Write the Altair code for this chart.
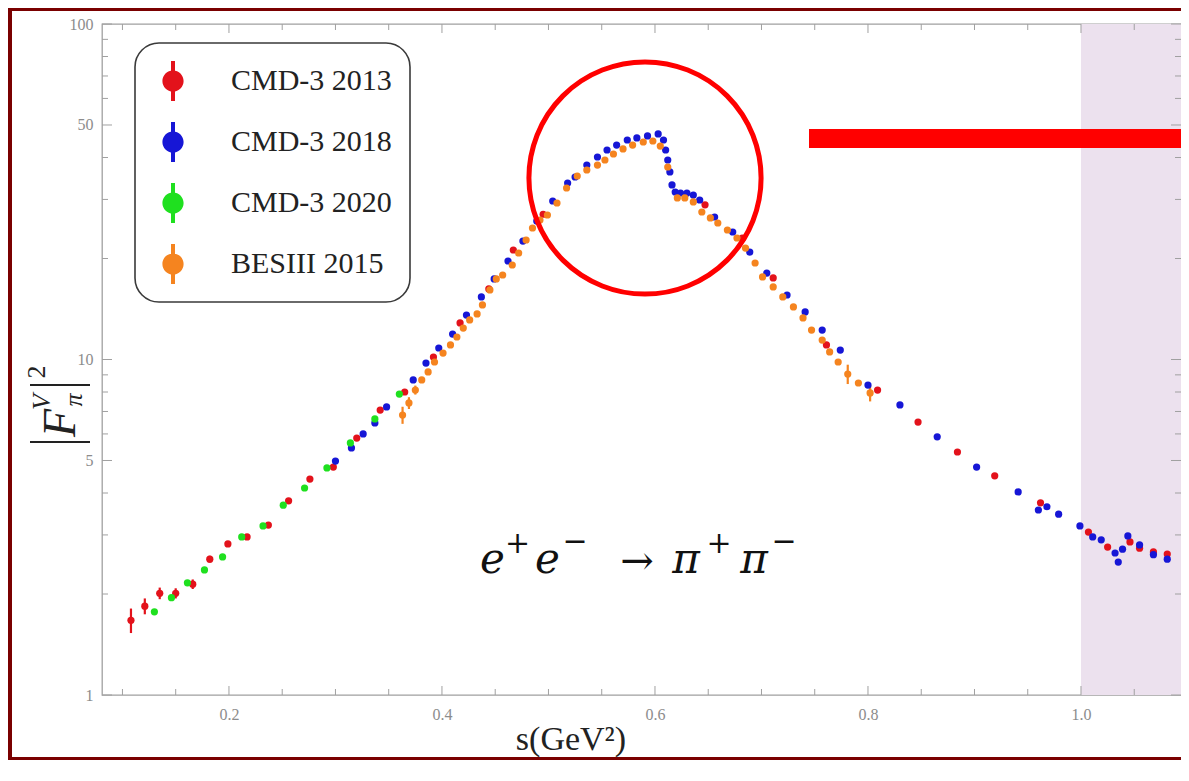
import altair as alt
import pandas as pd

# ---------------- data ----------------
series_names = ["CMD-3 2013", "CMD-3 2018", "CMD-3 2020", "BESIII 2015"]
series_colors = ["#e3121b", "#1616d6", "#1fe01f", "#f5841f"]

cmd2013_s = [0.108, 0.121, 0.135, 0.150, 0.166, 0.182, 0.199, 0.217, 0.237, 0.256,
             0.276, 0.298, 0.320, 0.342, 0.365, 0.392, 0.417, 0.444, 0.467, 0.495,
             0.647, 0.682, 0.711, 0.761, 0.809, 0.847, 0.884, 0.919, 0.962, 1.007,
             1.025, 1.046, 1.055, 1.068, 1.081]
cmd2013_f = [1.67, 1.84, 2.01, 2.01, 2.14, 2.54, 2.82, 2.96, 3.21, 3.79,
             4.40, 4.78, 5.83, 7.07, 8.00, 10.17, 12.85, 16.23, 21.2, 27.1,
             28.9, 23.0, 17.5, 11.05, 8.11, 6.51, 5.30, 4.50, 3.74, 3.06,
             2.76, 2.86, 2.74, 2.67, 2.63]
cmd2013_err = [0.14, 0.10, 0.08, 0.07, 0.07, 0.06, 0, 0, 0, 0,
               0, 0, 0, 0, 0, 0, 0, 0, 0, 0,
               0, 0, 0, 0, 0, 0, 0, 0, 0, 0,
               0, 0, 0, 0, 0]

cmd2018_s = [0.300, 0.315, 0.326, 0.337, 0.348, 0.373, 0.385, 0.397, 0.410, 0.423,
             0.437, 0.449, 0.462, 0.476, 0.489, 0.504, 0.518, 0.525, 0.536, 0.546,
             0.555, 0.564, 0.574, 0.583, 0.593, 0.603, 0.608, 0.610, 0.612, 0.614,
             0.616, 0.619, 0.624, 0.630, 0.636, 0.642, 0.656, 0.673, 0.689, 0.705,
             0.724, 0.741, 0.757, 0.774, 0.800, 0.830, 0.865, 0.902, 0.941, 0.960,
             0.968, 0.979, 0.999, 1.011, 1.019, 1.032, 1.035, 1.039, 1.044, 1.055,
             1.068, 1.081]
cmd2018_f = [4.98, 5.45, 6.00, 6.47, 7.22, 8.69, 9.76, 10.82, 11.91, 13.57,
             15.36, 17.38, 19.66, 22.55, 25.87, 29.68, 33.58, 34.99, 37.99, 40.14,
             42.11, 43.58, 45.11, 45.74, 46.37, 47.01, 45.11, 42.11, 39.32, 36.23,
             33.13, 31.57, 31.35, 31.35, 30.92, 29.88, 26.59, 23.99, 20.91, 18.10,
             15.57, 13.86, 12.24, 10.67, 8.39, 7.32, 5.88, 4.78, 4.03, 3.56,
             3.64, 3.46, 3.19, 2.96, 2.90, 2.65, 2.49, 2.72, 2.98, 2.80,
             2.62, 2.54]

cmd2020_s = [0.130, 0.146, 0.161, 0.177, 0.194, 0.212, 0.232, 0.251, 0.271, 0.292,
             0.314, 0.337, 0.360]
cmd2020_f = [1.77, 1.95, 2.16, 2.36, 2.58, 2.96, 3.19, 3.68, 4.14, 4.75,
             5.64, 6.65, 7.89]

bes2015_s = [0.363, 0.369, 0.375, 0.381, 0.387, 0.393, 0.401, 0.408, 0.414, 0.420,
             0.426, 0.433, 0.438, 0.445, 0.451, 0.457, 0.466, 0.472, 0.479, 0.485,
             0.492, 0.499, 0.508, 0.517, 0.527, 0.536, 0.546, 0.553, 0.561, 0.570,
             0.579, 0.589, 0.598, 0.605, 0.612, 0.621, 0.628, 0.636, 0.644, 0.652,
             0.659, 0.668, 0.677, 0.685, 0.694, 0.701, 0.711, 0.720, 0.730, 0.739,
             0.747, 0.757, 0.764, 0.772, 0.781, 0.791, 0.802]
bes2015_f = [6.83, 7.42, 8.11, 8.69, 9.18, 9.83, 10.45, 11.05, 11.67, 12.41,
             13.12, 13.67, 14.54, 16.12, 17.38, 17.86, 19.13, 20.77, 22.71, 24.66,
             26.05, 26.96, 29.27, 32.45, 35.23, 36.71, 37.99, 39.32, 40.98, 42.42,
             43.58, 44.49, 44.80, 43.28, 37.48, 30.30, 30.30, 29.48, 27.52, 26.42,
             25.52, 24.32, 23.02, 21.49, 19.39, 17.62, 16.45, 15.36, 14.34, 13.30,
             12.24, 11.43, 10.53, 9.83, 9.05, 8.51, 7.95]
bes2015_err = [0.40, 0.30, 0.25, 0, 0, 0, 0, 0, 0, 0,
               0, 0, 0, 0, 0, 0, 0, 0, 0, 0,
               0, 0, 0, 0, 0, 0, 0, 0, 0, 0,
               0, 0, 0, 0, 0, 0, 0, 0, 0, 0,
               0, 0, 0, 0, 0, 0, 0, 0, 0, 0,
               0, 0, 0, 0, 0.60, 0, 0.45]

x_ticks_major = [0.2, 0.4, 0.6, 0.8, 1.0]
x_ticks_minor = [0.1, 0.15, 0.25, 0.3, 0.35, 0.45, 0.5, 0.55, 0.65, 0.7, 0.75,
                 0.85, 0.9, 0.95, 1.05]
y_ticks_major = [1, 5, 10, 50, 100]
y_ticks_minor = [2, 3, 4, 6, 7, 8, 9, 20, 30, 40, 60, 70, 80, 90]
x_domain = [0.0808, 1.0939]
y_domain = [1, 100]
shade_from = 1.0

# ---------------- tables ----------------
def series_frame(name, s, f, err=None):
    return pd.DataFrame({"series": name, "s": s, "f": f,
                         "err": err if err is not None else [0] * len(s)})

frames = [
    series_frame(series_names[0], cmd2013_s, cmd2013_f, cmd2013_err),
    series_frame(series_names[1], cmd2018_s, cmd2018_f),
    series_frame(series_names[2], cmd2020_s, cmd2020_f),
    series_frame(series_names[3], bes2015_s, bes2015_f, bes2015_err),
]
points_df = pd.concat(frames, ignore_index=True)
points_df["lo"] = points_df["f"] - points_df["err"]
points_df["hi"] = points_df["f"] + points_df["err"]

W, H = 1079, 671
PAD_L, PAD_T, PAD_R, PAD_B = 94, 16, 0, 65
BOTTOM = H + PAD_B          # lowest plot-y coordinate of the canvas
SERIF = "Liberation Serif"
AX_COL = "#a0a0a0"
LAB_COL = "#8c8c8c"

x_scale = alt.Scale(domain=x_domain, nice=False, zero=False)
y_scale = alt.Scale(type="log", domain=y_domain, nice=False)
x_axis = alt.Axis(values=x_ticks_major, format=".1f", title=None, ticks=False,
                  domain=False, grid=False, labelFont=SERIF, labelFontSize=16,
                  labelColor=LAB_COL, labelPadding=11)
y_axis = alt.Axis(values=y_ticks_major, format="d", title=None, ticks=False,
                  domain=False, grid=False, labelFont=SERIF, labelFontSize=16,
                  labelColor=LAB_COL, labelPadding=9)


def X(field):
    return alt.X(field, type="quantitative", scale=x_scale, axis=x_axis)


def Y(field):
    return alt.Y(field, type="quantitative", scale=y_scale, axis=y_axis)


layers = []

# shaded region
shade_df = pd.DataFrame({"x0": [shade_from], "x1": [x_domain[1]]})
layers.append(alt.Chart(shade_df).mark_rect(color="#ece1ee").encode(
    x=X("x0"), x2="x1", y=alt.value(0), y2=alt.value(H)))

# inward ticks on all four sides
xt_major = pd.DataFrame({"s": x_ticks_major})
xt_minor = pd.DataFrame({"s": x_ticks_minor})
yt_major = pd.DataFrame({"v": y_ticks_major})
yt_minor = pd.DataFrame({"v": y_ticks_minor})
for dfx, ln in [(xt_major, 9), (xt_minor, 6)]:
    layers.append(alt.Chart(dfx).mark_rule(color=AX_COL, strokeWidth=1).encode(
        x=X("s"), y=alt.value(H), y2=alt.value(H - ln)))
    layers.append(alt.Chart(dfx).mark_rule(color=AX_COL, strokeWidth=1).encode(
        x=X("s"), y=alt.value(0), y2=alt.value(ln)))
for dfy, ln in [(yt_major, 10), (yt_minor, 6)]:
    layers.append(alt.Chart(dfy).mark_rule(color=AX_COL, strokeWidth=1).encode(
        y=Y("v"), x=alt.value(0), x2=alt.value(ln)))
    layers.append(alt.Chart(dfy).mark_rule(color=AX_COL, strokeWidth=1).encode(
        y=Y("v"), x=alt.value(W), x2=alt.value(W - ln)))

# error bars
for name, col in zip(series_names, series_colors):
    sub = points_df[(points_df["series"] == name) & (points_df["err"] > 0)]
    if len(sub):
        layers.append(alt.Chart(sub).mark_rule(color=col, strokeWidth=2.2).encode(
            x=X("s"), y=Y("lo"), y2="hi"))

# legend symbol: dot with an error bar
LEG_PATH = ("M-0.1,-1L0.1,-1L0.1,1L-0.1,1Z"
            "M-0.53,0A0.53,0.53,0,1,1,0.53,0A0.53,0.53,0,1,1,-0.53,0Z")

points = alt.Chart(points_df).mark_circle(size=52, opacity=1).encode(
    x=X("s"), y=Y("f"),
    color=alt.Color("series:N",
                    scale=alt.Scale(domain=series_names, range=series_colors),
                    sort=series_names,
                    legend=alt.Legend(title=None, orient="none", legendX=33, legendY=19,
                                      padding=18, cornerRadius=24, strokeColor="#3a3a3a",
                                      fillColor="white", symbolType=LEG_PATH,
                                      symbolSize=1600, symbolStrokeWidth=0,
                                      symbolOpacity=1, labelFont=SERIF,
                                      labelFontSize=30, labelColor="#222222",
                                      labelOffset=38, rowPadding=21, labelLimit=400)))
layers.append(points)

one = pd.DataFrame({"k": [0]})

# highlight circle and bar
layers.append(alt.Chart(one).mark_point(shape="circle", filled=False, size=53900,
                                        color="#ff0000", strokeWidth=5, opacity=1).encode(
    x=alt.value(543), y=alt.value(154)))
layers.append(alt.Chart(one).mark_rect(color="#ff0000").encode(
    x=alt.value(707), x2=alt.value(W), y=alt.value(105), y2=alt.value(124)))


# reaction label e+e- -> pi+pi-
def txt(text, x, y, size, italic=True, baseline="alphabetic", font="DejaVu Serif"):
    return alt.Chart(one).mark_text(text=text, font=font, fontSize=size,
                                    fontStyle="italic" if italic else "normal",
                                    align="center", baseline=baseline,
                                    color="#111111").encode(
        x=alt.value(x), y=alt.value(y))


BASE = 549
layers += [
    txt("e", 390.5, BASE, 42),
    txt("+", 415.5, 520, 30, italic=False, baseline="middle"),
    txt("e", 445.5, BASE, 42),
    txt("\u2212", 473, 518, 30, italic=False, baseline="middle"),
    txt("\u2192", 535, 538, 40, italic=False, baseline="middle"),
    txt("\u03c0", 584, BASE, 42),
    txt("+", 617, 520, 30, italic=False, baseline="middle"),
    txt("\u03c0", 652, BASE, 42),
    txt("\u2212", 682, 518, 30, italic=False, baseline="middle"),
]

# x-axis title
layers.append(alt.Chart(one).mark_text(text="s(GeV\u00b2)", font=SERIF, fontSize=34,
                                       align="center", baseline="alphabetic",
                                       color="#222222").encode(
    x=alt.value(469), y=alt.value(BOTTOM - 10)))


# y-axis title |F_pi^V|^2 (rotated)
def rtxt(text, x, y, size, italic=True):
    return alt.Chart(one).mark_text(text=text, font=SERIF, fontSize=size, angle=270,
                                    fontStyle="italic" if italic else "normal",
                                    align="center", baseline="middle",
                                    color="#222222").encode(
        x=alt.value(x), y=alt.value(y))


layers += [
    rtxt("F", -41, 399, 46),
    rtxt("V", -60, 378, 26),
    rtxt("\u03c0", -28, 376, 26),
    rtxt("2", -65, 348, 26, italic=False),
    alt.Chart(one).mark_rule(color="#222222", strokeWidth=2).encode(
        x=alt.value(-72), x2=alt.value(-12), y=alt.value(418)),
    alt.Chart(one).mark_rule(color="#222222", strokeWidth=2).encode(
        x=alt.value(-72), x2=alt.value(-12), y=alt.value(361)),
]

# slide border (dark red)
BORDER = "#7a0000"
layers += [
    alt.Chart(one).mark_rule(color=BORDER, strokeWidth=4).encode(
        x=alt.value(-92), y=alt.value(-16), y2=alt.value(BOTTOM)),
    alt.Chart(one).mark_rule(color=BORDER, strokeWidth=3).encode(
        x=alt.value(-94), x2=alt.value(W), y=alt.value(-14.5)),
    alt.Chart(one).mark_rule(color=BORDER, strokeWidth=3).encode(
        x=alt.value(-94), x2=alt.value(W), y=alt.value(BOTTOM - 1.5)),
]

chart = alt.layer(*layers).properties(
    width=W, height=H,
    padding={"left": PAD_L, "top": PAD_T, "right": PAD_R, "bottom": PAD_B},
    autosize=alt.AutoSizeParams(type="none"),
    background="white",
).configure_view(stroke=AX_COL, strokeWidth=1.3).configure_legend(strokeWidth=1.6)

chart.save("out.html", embed_options={"renderer": "svg", "actions": False})
